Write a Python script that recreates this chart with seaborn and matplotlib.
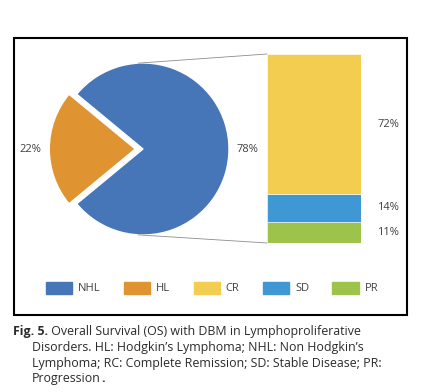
import numpy as np
import seaborn as sns
import matplotlib.pyplot as plt
from matplotlib.patches import Patch, Rectangle, ConnectionPatch

# dados
pie_labels = ['NHL', 'HL']
pie_values = [78, 22]
bar_labels = ['CR', 'SD', 'PR']
bar_values = [72, 14, 11]
cores_pie = ['#4675B8', '#E09431']
cores_bar = ['#F2CD4F', '#3F97D4', '#9DC34A']

caption_bold = 'Fig. 5.'
caption_lines = [
    ' Overall Survival (OS) with DBM in Lymphoproliferative',
    'Disorders. HL: Hodgkin\u2019s Lymphoma; NHL: Non Hodgkin\u2019s',
    'Lymphoma; RC: Complete Remission; SD: Stable Disease; PR:',
    'Progression',
]

sns.set_theme(style='white')
plt.rcParams['font.family'] = ['Open Sans', 'DejaVu Sans']
texto = '#404040'

W, H = 422, 392
fig = plt.figure(figsize=(W / 100, H / 100), dpi=100)

def px_axes(x0, y0, x1, y1):
    return fig.add_axes([x0 / W, (H - y1) / H, (x1 - x0) / W, (y1 - y0) / H])

# pizza
ax_pie = px_axes(43, 49, 243, 249)
half = pie_values[1] / 100 * 180
ax_pie.pie(pie_values, colors=cores_pie, startangle=180 - half - 360 * pie_values[0] / 100,
           explode=[0, 0.09], labels=[f'{v}%' for v in pie_values], labeldistance=1.09,
           textprops={'fontsize': 8, 'color': texto})
ax_pie.set_xlim(-1.163, 1.163)
ax_pie.set_ylim(-1.163, 1.163)
ax_pie.set_aspect('equal')
ax_pie.axis('off')

# barra empilhada
ax_bar = px_axes(267, 54, 361, 243)
base = 0
for lab, v, c in reversed(list(zip(bar_labels, bar_values, cores_bar))):
    ax_bar.bar(0, v, bottom=base, width=1, color=c, edgecolor='white', linewidth=0.4)
    ax_bar.text(1.29, base + v / 2, f'{v}%', transform=ax_bar.get_yaxis_transform(),
                ha='center', va='center', fontsize=8, color=texto)
    base += v
ax_bar.set_xlim(-0.5, 0.5)
ax_bar.set_ylim(0, sum(bar_values))
ax_bar.axis('off')

# linhas de ligacao
ang = np.deg2rad(93.3)
for sy, by in [(1, 1), (-1, 0)]:
    con = ConnectionPatch(xyA=(np.cos(ang), sy * np.sin(ang)), coordsA=ax_pie.transData,
                          xyB=(0, by), coordsB=ax_bar.transAxes, color='#8c8c8c', lw=0.6)
    fig.add_artist(con)

# legenda
handles = [Patch(color=c) for c in cores_pie + cores_bar]
fig.legend(handles, pie_labels + bar_labels, loc='center', bbox_to_anchor=(212 / W, 1 - 288 / H),
           ncol=5, frameon=False, fontsize=8, handlelength=2.35, handleheight=1.3,
           handletextpad=0.55, columnspacing=2.1, labelcolor=texto)

# moldura
fig.add_artist(Rectangle((14 / W, 1 - 315 / H), 393 / W, 277 / H, transform=fig.transFigure,
                         fill=False, edgecolor='black', linewidth=1.5))

# legenda da figura
cap = '#2b2b2b'
fs = 8.9
t0 = fig.text(13 / W, 1 - 332 / H, caption_bold, fontsize=fs, fontweight='bold', color=cap, va='center')
fig.canvas.draw()
bb = t0.get_window_extent()
fig.text(bb.x1 / W, 1 - 332 / H, caption_lines[0], fontsize=fs, color=cap, va='center')
for i, linha in enumerate(caption_lines[1:]):
    t = fig.text(32 / W, 1 - (347.5 + 15.6 * i) / H, linha, fontsize=fs, color=cap, va='center')
fig.canvas.draw()
bb = t.get_window_extent()
fig.text((bb.x1 + 0.5) / W, 1 - (347.5 + 15.6 * 2) / H, '.', fontsize=fs, fontweight='bold', color=cap, va='center')

fig.savefig('out.png', dpi=100)
